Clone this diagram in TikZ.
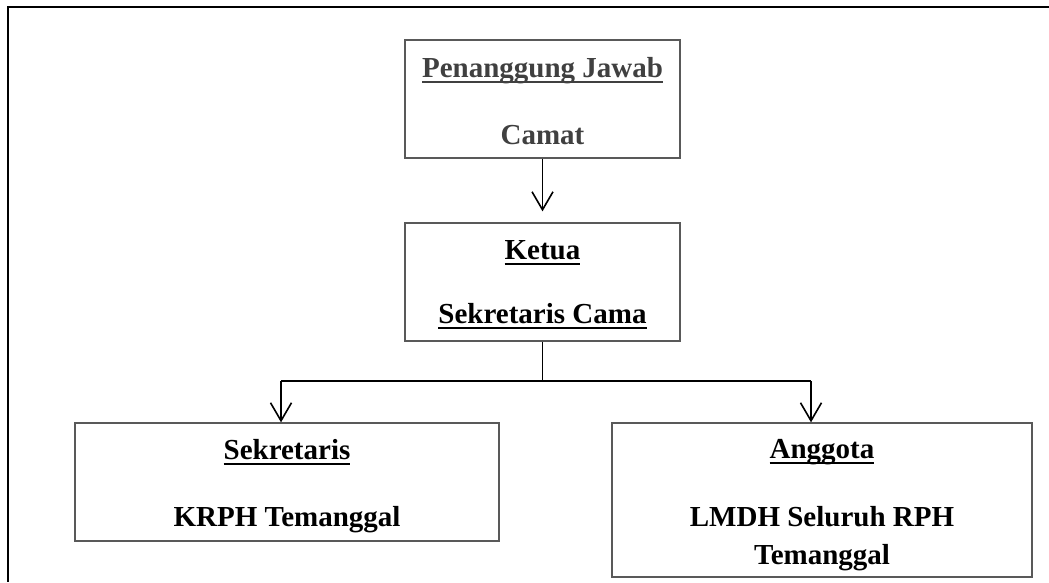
\documentclass[tikz,border=0pt]{standalone}
\usepackage{fontspec}
\setmainfont{Liberation Serif}
\usetikzlibrary{arrows.meta}
\definecolor{boxline}{HTML}{595959}
\definecolor{softtext}{HTML}{404040}
% underline at a fixed distance below the baseline
\newcommand\ulbar[1]{\setbox0\hbox{#1}\leavevmode\rlap{\vrule height -3.5pt depth 6pt width\wd0}\box0}
\begin{document}
\begin{tikzpicture}[x=1pt,y=-1pt,
  orgbox/.style={draw=boxline,line width=1.3pt,rectangle,inner sep=0pt},
  txt/.style={anchor=base,inner sep=0pt,font=\fontsize{29}{34}\selectfont\bfseries},
  link/.style={line width=1.6pt,black},
  arr/.style={link,-{Straight Barb[length=18pt,width=21pt]}}]
\useasboundingbox (0,0) rectangle (1049,582);
% outer frame (top and left sides)
\draw[line width=2.5pt,black] (1049,7) -- (8,7) -- (8,582);
% boxes
\node[orgbox,minimum width=275pt,minimum height=118pt] (pj) at (542.5,99) {};
\node[orgbox,minimum width=275pt,minimum height=118pt] (ketua) at (542.5,282) {};
\node[orgbox,minimum width=424pt,minimum height=118pt] (sek) at (287,482) {};
\node[orgbox,minimum width=420pt,minimum height=154pt] (ang) at (822,500) {};
% labels
\node[txt,text=softtext] (pjA) at (542.5,77) {\ulbar{Penanggung Jawab}};
\node[txt,text=softtext] (pjB) at (542.5,144) {Camat};
\node[txt] (kA) at (542.5,259) {\ulbar{Ketua}};
\node[txt] (kB) at (542.5,323) {\ulbar{Sekretaris Cama}};
\node[txt] (sA) at (287,459) {\ulbar{Sekretaris}};
\node[txt] (sB) at (287,526) {KRPH Temanggal};
\node[txt] (aA) at (822,458) {\ulbar{Anggota}};
\node[txt] (aB) at (822,526) {LMDH Seluruh RPH};
\node[txt] (aC) at (822,564) {Temanggal};
% connectors
\coordinate (bus) at (542.5,381);
\coordinate (busL) at (281,381);
\coordinate (busR) at (811,381);
\draw[arr,shorten >=11pt] (pj.south) -- (ketua.north);
\draw[link] (ketua.south) -- (bus);
\draw[link] (busL) -- (busR);
\draw[arr] (busL) -- (busL |- sek.north);
\draw[arr] (busR) -- (busR |- ang.north);
\end{tikzpicture}
\end{document}
